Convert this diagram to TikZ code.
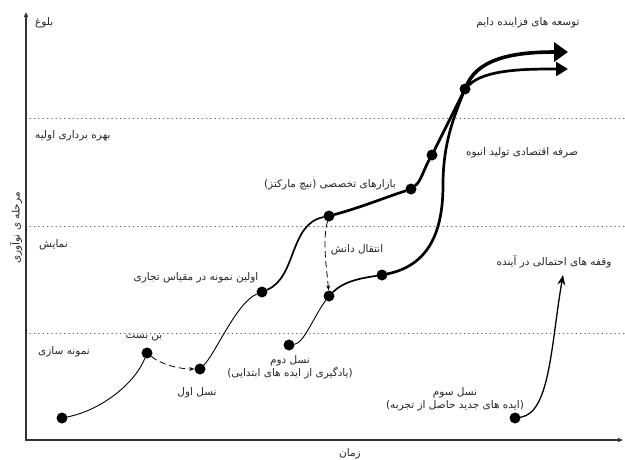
\documentclass[tikz,border=0pt]{standalone}
\usepackage{fontspec}
\newfontfamily\fafont[Script=Arabic]{DejaVu Sans}
\TeXXeTstate=1
\usetikzlibrary{arrows.meta}
\tikzset{>={Latex[width=2mm,length=2mm]}}
\newcommand{\fatxt}[1]{{\fafont\beginR #1\endR}}

\tikzset{
  dot/.style = {circle, fill=black, inner sep=0pt, minimum size=11pt},
  lbl/.style = {font=\fontsize{10.5}{13}\selectfont, text=black!85, inner sep=1pt},
  stage/.style = {lbl, anchor=west},
  level/.style = {black!60, line width=0.8pt, dash pattern=on 0.7pt off 3.6pt},
  axis/.style = {black!80, line width=1.2pt, {Triangle[length=5pt,width=4pt]}-{Triangle[length=5pt,width=4pt]}},
  thinline/.style = {line width=0.9pt},
  midline/.style = {line width=1.7pt},
  thickline/.style = {line width=2.7pt},
  heavyline/.style = {line width=3.6pt},
  jump/.style = {line width=0.8pt, dash pattern=on 6pt off 4pt, -{Stealth[length=5pt,width=4pt]}}
}

\begin{document}
\begin{tikzpicture}[x=1pt, y=-1pt, line cap=round]
	\useasboundingbox (0,0) rectangle (625,459);
	% axes and stage borders
	\coordinate (ytop) at (26,12);
	\coordinate (xend) at (623,440);
	\draw[axis] (ytop) |- (xend);
	\foreach \y in {118,226,333}
		\draw[level] (30,\y) -- (625,\y);
	\node[lbl, rotate=90] (phase) at (16,228) {\fatxt{مرحله ی نوآوری}};
	\node[lbl] (time) at (350,454) {\fatxt{زمان}};
	\node[stage] (mature) at (34,23) {\fatxt{بلوغ}};
	\node[stage] (exploit) at (34,136) {\fatxt{بهره برداری اولیه}};
	\node[stage] (demo) at (38,245) {\fatxt{نمایش}};
	\node[stage] (proto) at (37,352) {\fatxt{نمونه سازی}};
	% points on the curves
	\node[dot] (start) at (62,418) {};
	\node[dot] (deadend) at (147,353) {};
	\node[dot] (gen1) at (200,369) {};
	\node[dot] (comm) at (262,292) {};
	\node[dot] (top1) at (329,216) {};
	\node[dot] (niche) at (411,189) {};
	\node[dot] (mass) at (432,155) {};
	\node[dot] (cross) at (465,89) {};
	\node[dot] (gen2) at (289,345) {};
	\node[dot] (learn) at (329,296) {};
	\node[dot] (mid2) at (382,275) {};
	\node[dot] (gen3) at (515,418) {};
	\coordinate (up1) at (568,52);
	\coordinate (up2) at (568,69);
	\coordinate (bend2) at (443,185);
	\coordinate (pause) at (563,275);
	% first generation
	\draw[thinline] (start) .. controls +(40,-8) and +(-12,30) .. (deadend);
	\draw[jump] (deadend) .. controls +(15,12) and +(-20,0) .. (gen1);
	\draw[thinline] (gen1) .. controls +(15,-15) and +(-25,10) .. (comm);
	\draw[midline] (comm) .. controls +(35,-15) and +(-40,8) .. (top1);
	\draw[thickline] (top1) .. controls +(30,-8) and +(-30,10) .. (niche);
	\draw[thickline] (niche) .. controls +(10,-8) and +(-8,14) .. (mass);
	\draw[thickline] (mass) .. controls +(10,-20) and +(-10,20) .. (cross);
	\draw[heavyline, -{Triangle[length=14pt,width=19pt]}] (cross) .. controls +(15,-32) and +(-50,0) .. (up1);
	% second generation
	\draw[jump] (top1) .. controls +(-7,25) and +(-2,-25) .. (learn);
	\draw[thinline] (gen2) .. controls +(15,-2) and +(-15,20) .. (learn);
	\draw[midline] (learn) .. controls +(15,-15) and +(-20,3) .. (mid2);
	\draw[thickline] (mid2) .. controls +(48,-10) and +(0,45) .. (bend2)
		.. controls +(0,-40) and +(-12,30) .. (cross);
	\draw[thickline, -{Triangle[length=12pt,width=14pt]}] (cross) .. controls +(20,-20) and +(-40,0) .. (up2);
	% third generation
	\draw[line width=1.3pt, -{Stealth[length=10pt,width=8pt]}] (gen3) .. controls +(35,-5) and +(-12,70) .. (pause);
	% labels
	\node[lbl] (grow) at (528,23) {\fatxt{توسعه های فزاینده دایم}};
	\node[lbl] (scale) at (522,153) {\fatxt{صرفه اقتصادی تولید انبوه}};
	\node[lbl] (market) at (330,185) {\fatxt{بازارهای تخصصی (نیچ مارکتز)}};
	\node[lbl] (transfer) at (357,250) {\fatxt{انتقال دانش}};
	\node[lbl] (first) at (196,278) {\fatxt{اولین نمونه در مقیاس تجاری}};
	\node[lbl] (halt) at (554,262) {\fatxt{وقفه های احتمالی در آینده}};
	\node[lbl] (block) at (144,338) {\fatxt{بن بست}};
	\node[lbl] (g1) at (197,393) {\fatxt{نسل اول}};
	\node[lbl, align=center] (g2) at (290,367) {\fatxt{نسل دوم}\\\fatxt{(یادگیری از ایده های ابتدایی)}};
	\node[lbl, align=center] (g3) at (455,399) {\fatxt{نسل سوم}\\\fatxt{(ایده های جدید حاصل از تجربه)}};
\end{tikzpicture}
\end{document}
